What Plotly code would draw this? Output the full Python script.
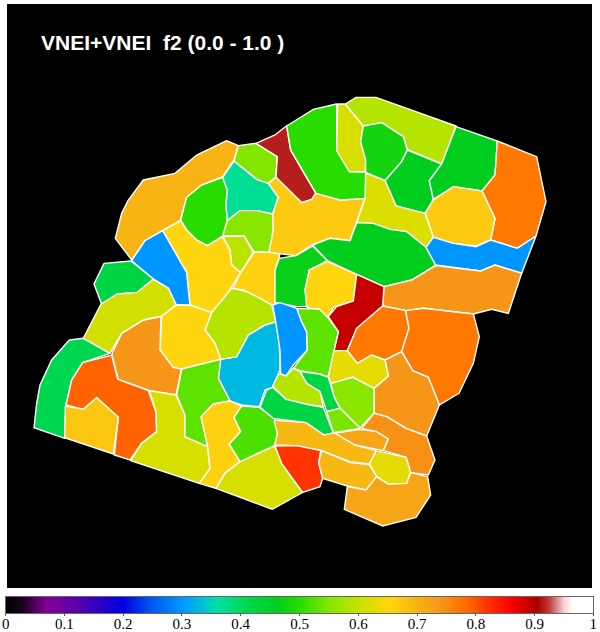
import numpy as np
import plotly.graph_objects as go
from plotly.colors import sample_colorscale
from plotly.subplots import make_subplots

TITLE = "VNEI+VNEI\u00a0\u00a0f2 (0.0 - 1.0 )"
TICK_VALUES = [0, 0.1, 0.2, 0.3, 0.4, 0.5, 0.6, 0.7, 0.8, 0.9, 1]
TICK_LABELS = ["0", "0.1", "0.2", "0.3", "0.4", "0.5", "0.6", "0.7", "0.8", "0.9", "1"]

COLOR_STOPS = [
    (0.00, (0, 0, 0)), (0.03, (30, 0, 35)), (0.07, (130, 0, 150)), (0.12, (90, 0, 170)),
    (0.20, (0, 0, 225)), (0.25, (0, 90, 240)), (0.30, (0, 150, 255)), (0.33, (0, 185, 225)),
    (0.36, (0, 225, 165)), (0.41, (0, 215, 80)), (0.46, (0, 205, 30)), (0.50, (40, 220, 0)),
    (0.55, (130, 230, 0)), (0.585, (180, 228, 0)), (0.62, (220, 222, 0)), (0.655, (255, 213, 15)),
    (0.70, (247, 180, 20)), (0.74, (245, 150, 25)), (0.77, (255, 120, 0)), (0.79, (255, 100, 0)),
    (0.82, (255, 50, 0)), (0.86, (255, 0, 0)), (0.905, (170, 0, 0)), (0.925, (195, 60, 60)),
    (0.95, (245, 210, 210)), (0.965, (255, 255, 255)), (1.00, (255, 255, 255)),
]
COLORSCALE = [[v, f"rgb({c[0]},{c[1]},{c[2]})"] for v, c in COLOR_STOPS]

# Sky-map regions. Outline points are read from the picture, each in a reading frame:
# sky position = frame origin + reading / 3.
FRAME_ORIGINS = {"A": (30, 90), "B": (270, 90), "C": (30, 300), "D": (260, 300)}

region_values_a = [0.70, 0.50, 0.37, 0.55, 0.915, 0.555, 0.59, 0.655, 0.30, 0.42, 0.67, 0.66]
region_outlines_a = [
    [(590,152),(625,167),(612,210),(578,260),(515,285),(470,322),(452,390),(398,422),(345,452),(305,510),(256,445),(275,370),(295,330),(340,270),(435,250),(500,195)],
    [(578,262),(592,300),(588,345),(592,392),(578,438),(532,467),(500,450),(470,420),(452,390),(470,322),(515,285)],
    [(612,213),(640,235),(680,268),(715,280),(745,322),(728,372),(680,362),(630,362),(592,392),(588,345),(592,300),(578,262)],
    [(625,167),(678,160),(742,200),(738,260),(715,280),(680,268),(640,235),(612,213)],
    [(678,160),(735,135),(770,107),(782,180),(825,255),(858,310),(845,328),(815,338),(738,262),(742,200)],
    [(630,362),(680,362),(728,372),(730,420),(717,487),(672,485),(642,438),(578,438),(592,392)],
    [(578,440),(642,438),(670,487),(632,548),(605,525),(600,480)],
    [(398,422),(452,392),(470,420),(500,450),(532,467),(578,440),(600,480),(605,525),(632,548),(580,630),(545,668),(480,645),(470,548)],
    [(398,422),(470,548),(480,648),(438,643),(415,595),(370,567),(305,512),(345,452)],
    [(222,520),(303,513),(370,567),(322,607),(262,612),(215,643),(192,582)],
    [(715,280),(738,262),(815,338),(845,328),(858,308),(930,330),(1005,325),(960,452),(900,445),(845,465),(798,497),(750,492),(717,487),(730,420),(728,372),(745,322)],
    [(672,487),(717,487),(750,492),(735,545),(745,600),(750,640),(725,645),(680,620),(640,600),(608,595),(632,548)],
]

region_values_b = [0.50, 0.615, 0.585, 0.48, 0.46, 0.46, 0.77, 0.67, 0.62, 0.46, 0.30, 0.74, 0.47, 0.655]
region_outlines_b = [
    [(50,108),(130,58),(200,42),(200,180),(238,245),(287,247),(287,325),(210,330),(138,310),(105,255),(62,180)],
    [(203,42),(226,42),(280,108),(272,155),(287,210),(285,245),(238,245),(200,182)],
    [(226,42),(258,22),(318,22),(558,108),(515,222),(412,178),(400,140),(335,98),(280,108)],
    [(280,108),(335,98),(400,140),(412,180),(395,215),(345,272),(287,247),(287,210),(272,155)],
    [(412,180),(515,222),(478,272),(490,328),(465,370),(378,348),(345,272),(395,215)],
    [(558,110),(682,153),(675,255),(636,303),(550,290),(490,328),(478,272),(515,222)],
    [(682,153),(800,200),(828,335),(798,438),(742,475),(662,450),(675,385),(636,303),(675,255)],
    [(490,330),(550,290),(636,303),(675,385),(662,450),(618,468),(550,460),(490,442),(466,370)],
    [(287,250),(345,272),(378,348),(465,370),(490,442),(468,472),(410,425),(360,418),(310,400),(260,398),(285,325)],
    [(260,398),(310,400),(360,418),(410,425),(468,472),(497,525),(425,570),(342,590),(260,553),(172,512),(128,465),(180,445),(240,452)],
    [(490,442),(550,460),(618,470),(662,450),(742,475),(798,438),(755,550),(675,525),(632,543),(497,525),(468,472)],
    [(342,590),(425,570),(497,527),(632,543),(675,525),(755,550),(715,670),(665,658),(610,672),(460,655),(407,662),(338,648)],
    [(128,468),(172,512),(118,540),(105,600),(115,650),(80,650),(15,637),(15,540),(28,505),(78,497)],
    [(172,515),(260,553),(250,633),(190,652),(175,680),(110,650),(105,600),(118,540)],
]

region_values_c = [0.33, 0.585, 0.655, 0.74, 0.41, 0.79, 0.675, 0.615, 0.53, 0.66, 0.615, 0.52, 0.61]
region_outlines_c = [
    [(738,65),(748,130),(750,210),(728,262),(705,270),(688,320),(635,315),(600,303),(565,235),(572,178),(620,170),(655,105),(705,75)],
    [(605,-35),(650,-25),(690,-5),(725,15),(738,65),(705,75),(655,105),(620,170),(572,178),(555,130),(525,90),(545,38)],
    [(395,48),(438,15),(480,15),(545,38),(525,90),(555,130),(572,178),(455,207),(430,203),(390,150)],
    [(245,162),(275,100),(340,60),(393,50),(390,150),(430,203),(455,207),(438,285),(360,272),(265,238)],
    [(118,120),(160,115),(240,160),(158,188),(125,240),(108,315),(104,415),(12,383),(20,310),(30,255),(65,180)],
    [(158,188),(245,165),(263,238),(355,272),(378,335),(380,395),(335,430),(300,480),(253,465),(265,352),(200,293),(160,328),(108,315),(125,240)],
    [(106,318),(160,328),(200,293),(265,352),(250,462),(104,413)],
    [(358,272),(438,285),(465,345),(465,410),(533,440),(540,505),(508,550),(302,482),(335,430),(380,395),(378,335)],
    [(455,207),(572,178),(565,235),(600,303),(550,312),(513,350),(533,440),(465,410),(465,345),(440,285)],
    [(513,350),(550,312),(600,303),(635,318),(612,352),(632,395),(598,432),(630,485),(585,520),(558,565),(508,550),(540,505),(533,440)],
    [(733,438),(775,520),(818,577),(727,628),(558,565),(585,520),(630,485)],
    [(635,318),(688,322),(735,358),(745,400),(733,437),(630,485),(598,432),(632,395),(612,352)],
    [(213,12),(262,-18),(322,-23),(370,-62),(415,-35),(438,15),(395,48),(340,60),(275,100),(240,160),(160,115)],
]

region_values_d = [0.89, 0.30, 0.53, 0.77, 0.77, 0.74, 0.63, 0.555, 0.42, 0.585, 0.42, 0.545, 0.72, 0.745, 0.63, 0.695, 0.82, 0.695, 0.72]
region_outlines_d = [
    [(290,-77),(372,-40),(368,18),(290,85),(262,152),(222,152),(235,95),(205,50),(230,20),(280,3)],
    [(38,15),(60,8),(110,25),(125,65),(140,95),(142,150),(100,195),(78,228),(62,222),(60,150),(48,70)],
    [(110,25),(178,27),(205,55),(235,95),(222,152),(205,230),(178,222),(120,212),(100,205),(142,150),(140,95),(125,65)],
    [(368,18),(437,32),(447,85),(425,155),(375,180),(335,165),(292,190),(262,152),(290,85)],
    [(437,32),(490,25),(640,42),(658,110),(640,190),(597,280),(538,315),(505,232),(458,212),(425,155),(447,85)],
    [(425,155),(458,212),(505,232),(538,315),(500,408),(438,385),(380,350),(342,340),(342,265),(385,228),(375,180)],
    [(222,152),(262,152),(292,190),(335,165),(375,180),(385,228),(342,265),(278,232),(213,250),(205,230)],
    [(213,250),(278,232),(342,265),(342,340),(300,385),(240,325),(222,290)],
    [(120,215),(178,222),(205,232),(222,290),(240,325),(200,335),(180,275),(140,250)],
    [(38,258),(56,222),(62,222),(78,228),(100,205),(120,215),(140,250),(180,275),(190,320),(150,315),(78,298)],
    [(0,322),(20,270),(38,262),(78,298),(150,315),(190,322),(220,400),(192,405),(138,368),(40,355)],
    [(200,335),(240,325),(300,385),(220,398)],
    [(222,400),(300,388),(350,395),(385,417),(370,452),(285,435)],
    [(305,385),(342,340),(380,350),(438,385),(500,408),(525,480),(505,525),(452,518),(438,472),(370,452),(385,417),(350,395)],
    [(348,452),(438,472),(452,518),(440,550),(385,553),(350,530),(328,492)],
    [(42,360),(138,368),(192,405),(222,398),(285,435),(348,452),(328,492),(270,485),(185,452),(110,437),(45,435),(52,400)],
    [(45,438),(110,437),(182,452),(176,488),(188,535),(180,560),(128,577),(65,490)],
    [(185,452),(270,488),(328,494),(350,530),(318,570),(262,558),(188,535),(176,488)],
    [(350,530),(385,553),(440,550),(452,518),(503,530),(512,585),(468,652),(368,678),(253,628),(262,560),(318,570)],
]

PANEL_X = (7, 592)
PANEL_Y = (4, 588)
BAR_X = (5.7, 593.3)
BAR_Y = (597, 613)
W, H = 600, 632

fig = make_subplots(rows=2, cols=1)
fig.update_layout(
    width=W, height=H, margin=dict(l=0, r=0, t=0, b=0, autoexpand=False),
    paper_bgcolor="white", plot_bgcolor="black", showlegend=False,
    font=dict(family="Liberation Serif", color="black"),
)

def add_regions(frame, values, outlines):
    ox, oy = FRAME_ORIGINS[frame]
    for value, outline in zip(values, outlines):
        pts = outline + [outline[0]]
        xs = [ox + p[0] / 3 for p in pts]
        ys = [oy + p[1] / 3 for p in pts]
        fig.add_trace(go.Scatter(
            x=xs, y=ys, mode="lines", fill="toself",
            fillcolor=sample_colorscale(COLORSCALE, [value], colortype="rgb")[0],
            line=dict(color="white", width=1.4), hoverinfo="text", text=f"f2 = {value}",
        ), row=1, col=1)

add_regions("A", region_values_a, region_outlines_a)
add_regions("B", region_values_b, region_outlines_b)
add_regions("C", region_values_c, region_outlines_c)
add_regions("D", region_values_d, region_outlines_d)

bar_levels = np.linspace(0, 1, 589)
fig.add_trace(go.Heatmap(
    x=bar_levels, y=[0, 1], z=[bar_levels, bar_levels], zmin=0, zmax=1,
    colorscale=COLORSCALE, showscale=False, hoverinfo="skip",
), row=2, col=1)

fig.update_xaxes(row=1, col=1, domain=[PANEL_X[0] / W, PANEL_X[1] / W], range=list(PANEL_X),
                 visible=False, fixedrange=True)
fig.update_yaxes(row=1, col=1, domain=[1 - PANEL_Y[1] / H, 1 - PANEL_Y[0] / H],
                 range=[PANEL_Y[1], PANEL_Y[0]], visible=False, fixedrange=True)
fig.update_xaxes(row=2, col=1, domain=[BAR_X[0] / W, BAR_X[1] / W], range=[0, 1],
                 tickmode="array", tickvals=TICK_VALUES, ticktext=TICK_LABELS,
                 ticks="outside", ticklen=2, tickwidth=1, tickcolor="#555555", ticklabelstandoff=-5,
                 showline=True, linecolor="#666666", linewidth=1, mirror=True, showgrid=False,
                 zeroline=False, tickfont=dict(family="Liberation Serif", size=15, color="black"),
                 fixedrange=True)
fig.update_yaxes(row=2, col=1, domain=[1 - BAR_Y[1] / H, 1 - BAR_Y[0] / H], range=[0, 1],
                 showticklabels=False, ticks="", showline=True, linecolor="#666666", linewidth=1,
                 mirror=True, showgrid=False, zeroline=False, fixedrange=True)

fig.add_annotation(
    x=38.5 / W, y=1 - 42 / H, xref="paper", yref="paper", xanchor="left", yanchor="middle",
    text=TITLE, showarrow=False,
    font=dict(family="Liberation Sans", size=21, color="white", weight="bold"),
)

fig.write_html("out.html", config={"displayModeBar": False},
               post_script="document.body.style.margin='0';document.documentElement.style.overflow='hidden';")
